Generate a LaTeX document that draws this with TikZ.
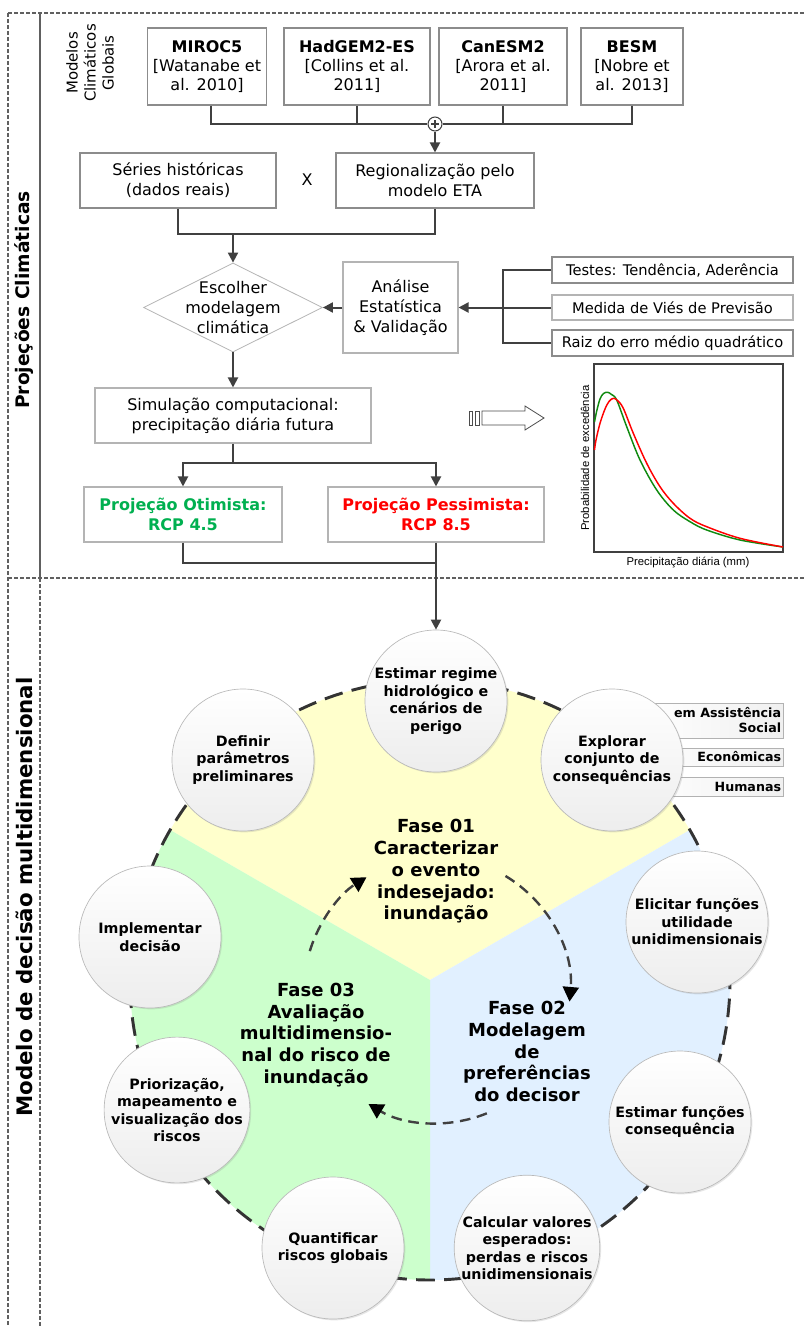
\documentclass[tikz,border=0pt]{standalone}
\usepackage{fontspec}
\setmainfont{DejaVu Sans}
\newfontfamily\chartfont{Liberation Sans}
\usetikzlibrary{shapes.geometric,arrows.meta,calc,shadows}
\definecolor{lineg}{HTML}{404040}
\definecolor{boxg}{HTML}{8C8C8C}
\definecolor{lboxg}{HTML}{B4B4B4}
\definecolor{optg}{HTML}{00B050}
\definecolor{pesr}{HTML}{FF0000}
\definecolor{secy}{HTML}{FFFFCC}
\definecolor{secg}{HTML}{CCFFCC}
\definecolor{secb}{HTML}{E1F0FF}
\definecolor{curveg}{HTML}{108A10}
\begin{document}
\begin{tikzpicture}[x=0.75pt,y=0.75pt,
  frame/.style={draw=gray!75!black, line width=0.8pt, dash pattern=on 3pt off 1.5pt},
  mbox/.style={draw=boxg, line width=0.8pt, fill=white, inner sep=0pt, align=center,
    font=\fontsize{12}{14.5}\selectfont},
  tbox/.style={draw=boxg, line width=0.8pt, fill=white, inner sep=0pt, align=center,
    font=\fontsize{12}{15}\selectfont},
  lbox/.style={tbox, draw=lboxg},
  sbox/.style={draw=boxg, line width=0.8pt, fill=white, inner sep=0pt, align=center,
    minimum width=180.75pt, font=\fontsize{11}{13}\selectfont},
  conn/.style={draw=lineg, line width=1.5pt},
  arr/.style={conn, -{Triangle[length=7.5pt,width=7.5pt]}},
  bigdash/.style={draw=gray!40!black, line width=2.2pt, dash pattern=on 14pt off 7pt},
  innerarc/.style={draw=lineg, line width=1.8pt, dash pattern=on 8pt off 5pt,
    -{Triangle[length=11pt,width=12pt,color=black]}},
  phase/.style={align=center, font=\bfseries\fontsize{13.5}{16.3}\selectfont},
  sidebox/.style={draw=gray!60, line width=0.6pt, left color=white, right color=gray!12,
    inner sep=0pt, minimum width=107.25pt},
  sidetxt/.style={anchor=east, align=right, inner sep=0pt, font=\bfseries\fontsize{9.5}{11.25}\selectfont},
  cstep/.style={circle, draw=gray!55, line width=0.5pt, top color=white, bottom color=gray!14,
    minimum size=106.5pt, inner sep=0pt, align=center,
    drop shadow={opacity=0.2, shadow xshift=1pt, shadow yshift=-1pt},
    font=\bfseries\fontsize{10.7}{13.1}\selectfont}
]
\useasboundingbox (0,0) rectangle (806,-1327);
% frame
\draw[frame] (8,-13) -- (806,-13);
\draw[frame] (8,-13) -- (8,-1327);
\draw[frame] (8,-578) -- (806,-578);
\draw[draw=gray!75!black, line width=0.8pt] (40,-13) -- (40,-578);
\draw[frame] (40,-578) -- (40,-1327);
\node[rotate=90, font=\bfseries\fontsize{14}{16}\selectfont] (lab1) at (24,-300) {Projeções Climáticas};
\node[rotate=90, font=\bfseries\fontsize{16}{18}\selectfont] (lab2) at (24,-897) {Modelo de decisão multidimensional};
\node[rotate=90, align=center, font=\fontsize{11.2}{13.5}\selectfont] (mcg) at (90,-63) {Modelos\\Climáticos\\Globais};
% model boxes
\node[mbox, minimum width=89.25pt, minimum height=57.75pt] (m1) at (207,-66.5) {\textbf{MIROC5}\\{[}Watanabe et\\al. 2010{]}};
\node[mbox, minimum width=109.5pt, minimum height=57.75pt] (m2) at (357,-66.5) {\textbf{HadGEM2-ES}\\{[}Collins et al.\\2011{]}};
\node[mbox, minimum width=96pt, minimum height=57.75pt] (m3) at (503,-66.5) {\textbf{CanESM2}\\{[}Arora et al.\\2011{]}};
\node[mbox, minimum width=76.5pt, minimum height=57.75pt] (m4) at (632,-66.5) {\textbf{BESM}\\{[}Nobre et\\al. 2013{]}};
\node[circle, draw=lineg, line width=0.8pt, fill=white, minimum size=10.5pt, inner sep=0pt] (plus) at (435,-124) {};
\draw[conn] ([xshift=3pt]m1.south) |- (plus.west);
\draw[conn] (m4.south) |- (plus.east);
\draw[conn] (m2.south) -- (m2.south |- plus.center);
\draw[conn] (m3.south) -- (m3.south |- plus.center);
\draw[draw=lineg, line width=0.9pt] ($(plus.center)+(-4,0)$) -- ($(plus.center)+(4,0)$);
\draw[draw=lineg, line width=0.9pt] ($(plus.center)+(0,-4)$) -- ($(plus.center)+(0,4)$);
% second row
\node[tbox, minimum width=147pt, minimum height=41.25pt] (ser) at (178,-180.5) {Séries históricas\\(dados reais)};
\node[tbox, minimum width=148.5pt, minimum height=41.25pt] (reg) at (435,-180.5) {Regionalização pelo\\modelo ETA};
\node[font=\fontsize{12}{15}\selectfont] (xx) at (307,-180) {X};
\draw[arr] (plus.south) -- (reg.north);
\coordinate (j1) at (233,-234);
\draw[conn] (ser.south) |- (j1) -| (reg.south);
% diamond & analysis
\node[diamond, draw=lboxg, line width=0.6pt, fill=white, minimum width=134.25pt, minimum height=66.75pt, inner sep=0pt] (dia) at (233,-307.5) {};
\node[align=center, font=\fontsize{12}{15}\selectfont] (diatxt) at (dia.center) {Escolher\\modelagem\\climática};
\draw[arr] (j1) -- (dia.north);
\node[lbox, minimum width=86.25pt, minimum height=68.25pt] (ana) at (400.5,-307.5) {Análise\\Estatística\\\& Validação};
\draw[arr] (ana.west) -- (dia.east);
\node[sbox, minimum height=19.5pt] (t1) at (672.5,-270) {Testes: Tendência, Aderência};
\node[sbox, draw=lboxg, minimum height=18.75pt] (t2) at (672.5,-307.5) {Medida de Viés de Previsão};
\node[sbox, minimum height=19.5pt] (t3) at (672.5,-343) {Raiz do erro médio quadrático};
\coordinate (j2) at (503,-307.5);
\draw[conn] (t1.west) -| (j2) |- (t3.west);
\draw[conn] (t2.west) -- (j2);
\draw[arr] (j2) -- (ana.east);
% simulation
\node[lbox, minimum width=207pt, minimum height=41.25pt] (sim) at (233,-415.5) {Simulação computacional:\\precipitação diária futura};
\draw[arr] (dia.south) -- (sim.north);
\coordinate (j3) at (233,-463);
\node[lbox, minimum width=148.5pt, minimum height=41.25pt, text=optg, font=\bfseries\fontsize{12}{15}\selectfont] (oti) at (183,-514.5) {Projeção Otimista:\\RCP 4.5};
\node[lbox, minimum width=162pt, minimum height=41.25pt, text=pesr, font=\bfseries\fontsize{12}{15}\selectfont] (pes) at (436,-514.5) {Projeção Pessimista:\\RCP 8.5};
\draw[conn] (sim.south) -- (j3);
\draw[arr] (j3) -| (oti.north);
\draw[arr] (j3) -| (pes.north);
\coordinate (j4) at (436,-563);
\draw[conn] (oti.south) |- (j4);
% hollow arrow
\draw[draw=gray!60!black, line width=0.6pt, fill=white] (482,-411) -- (525,-411) -- (525,-406) -- (544,-418) -- (525,-430) -- (525,-425) -- (482,-425) -- cycle;
\draw[draw=gray!60!black, line width=0.6pt, fill=white] (469,-411) rectangle (472,-425);
\draw[draw=gray!60!black, line width=0.6pt, fill=white] (475,-411) rectangle (479,-425);
% chart
\node[draw=lineg, line width=0.8pt, minimum width=141.75pt, minimum height=141pt, inner sep=0pt] (chart) at (688.5,-458) {};
\node[rotate=90, font=\chartfont\fontsize{8.5}{10}\selectfont] (ylab) at (585,-458) {Probabilidade de excedência};
\node[font=\chartfont\fontsize{8.5}{10}\selectfont] (xlab) at (688,-563) {Precipitação diária (mm)};
\draw[curveg, line width=1.1pt] plot[smooth, tension=0.55] coordinates {(594.5,-422) (596.7,-411) (600,-399) (603.5,-393.5) (607.7,-392.3) (611.5,-394.5) (616.7,-400) (626.7,-426.7) (640,-460) (656.7,-490) (673.3,-510) (690,-521.7) (706.7,-530) (740,-540) (783,-547)};
\draw[pesr, line width=1.1pt] plot[smooth, tension=0.55] coordinates {(594.5,-450) (596,-440) (600,-423.3) (605,-409) (609,-401.5) (613.3,-398.3) (617.5,-400.5) (623.3,-408.3) (633.3,-433.3) (646.7,-463.3) (660,-486.7) (673.3,-503.3) (690,-518.3) (706.7,-526.7) (740,-538.3) (783,-547)};
% bottom pie
\begin{scope}[shift={(430,-980)}]
\fill[secy] (0,0) -- (30:300) arc[start angle=30, end angle=150, radius=300] -- cycle;
\fill[secb] (0,0) -- (-90:300) arc[start angle=-90, end angle=30, radius=300] -- cycle;
\fill[secg] (0,0) -- (150:300) arc[start angle=150, end angle=270, radius=300] -- cycle;
\draw[bigdash] (0,0) circle[radius=300];
\end{scope}
\coordinate (ic) at (437,-990);
\draw[innerarc] ($(ic)+(59:133)$) arc[start angle=59, end angle=-5, radius=133];
\draw[innerarc] ($(ic)+(-68:133)$) arc[start angle=-68, end angle=-121, radius=133];
\draw[innerarc] ($(ic)+(163:133)$) arc[start angle=163, end angle=122, radius=133];
\node[phase] (f1) at (436,-871.5) {Fase 01\\Caracterizar\\o evento\\indesejado:\\inundação};
\node[phase] (f2) at (527,-1051.5) {Fase 02\\Modelagem\\de\\preferências\\do decisor};
\node[phase] (f3) at (316,-1035) {Fase 03\\Avaliação\\multidimensio-\\nal do risco de\\inundação};
% side boxes
\node[sidebox, minimum height=26.25pt] (s1) at (711.5,-720.5) {};
\node[sidebox, minimum height=13.5pt] (s2) at (711.5,-757) {};
\node[sidebox, minimum height=14.25pt] (s3) at (711.5,-786.5) {};
\node[sidetxt] (s1t) at ([xshift=-1.5pt]s1.east) {em Assistência\\Social};
\node[sidetxt] (s2t) at ([xshift=-1.5pt]s2.east) {Econômicas};
\node[sidetxt] (s3t) at ([xshift=-1.5pt]s3.east) {Humanas};
% step circles
\node[cstep] (c1) at (436,-701) {Estimar regime\\hidrológico e\\cenários de\\perigo};
\node[cstep] (c2) at (612,-760) {Explorar\\conjunto de\\consequências};
\node[cstep] (c3) at (697,-922) {Elicitar funções\\utilidade\\unidimensionais};
\node[cstep] (c4) at (680,-1122) {Estimar funções\\consequência};
\node[cstep] (c5) at (527,-1248) {Calcular valores\\esperados:\\perdas e riscos\\unidimensionais};
\node[cstep] (c6) at (333,-1248) {Quantificar\\riscos globais};
\node[cstep] (c7) at (177,-1110) {Priorização,\\mapeamento e\\visualização dos\\riscos};
\node[cstep] (c8) at (150,-937) {Implementar\\decisão};
\node[cstep] (c9) at (243,-760) {Definir\\parâmetros\\preliminares};
\draw[arr] (pes.south) -- (c1.north);
\end{tikzpicture}
\end{document}
